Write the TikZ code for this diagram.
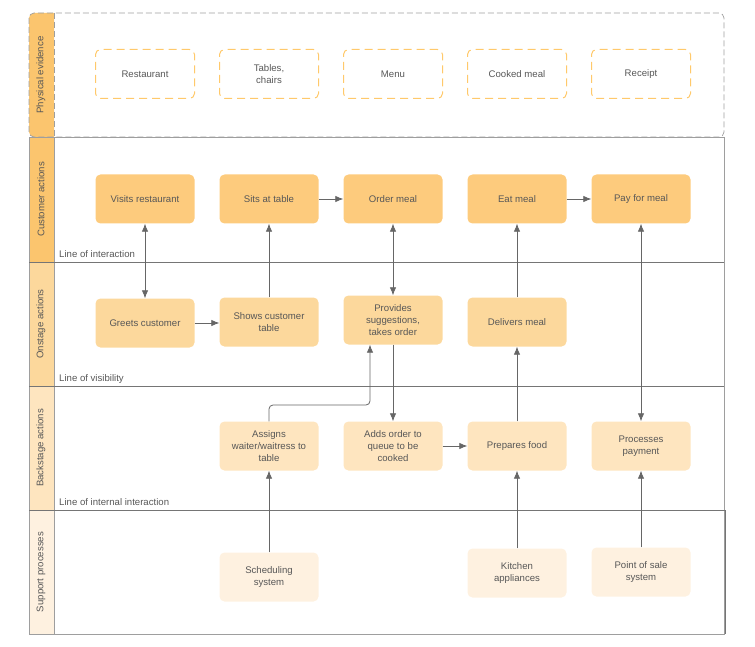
\documentclass[tikz,border=0pt]{standalone}
\usepackage{fontspec}
\setmainfont{Liberation Sans}
\usetikzlibrary{arrows.meta}

\definecolor{ink}{HTML}{575757}
\definecolor{wire}{HTML}{666666}
\definecolor{rim}{HTML}{9E9E9E}
\definecolor{laneA}{HTML}{FBC56E}
\definecolor{laneB}{HTML}{FCD89C}
\definecolor{laneC}{HTML}{FEE5BF}
\definecolor{laneD}{HTML}{FEF1E0}
\definecolor{custfill}{HTML}{FDCB7D}
\definecolor{evidrim}{HTML}{FFC96B}

\tikzset{
  box/.style={minimum width=99pt, minimum height=49pt, inner sep=0pt,
    rounded corners=5pt, align=center},
  evid/.style={box, draw=evidrim, line width=1pt, dash pattern=on 8pt off 5pt},
  cust/.style={box, fill=custfill},
  onst/.style={box, fill=laneB},
  back/.style={box, fill=laneC},
  supp/.style={box, fill=laneD},
  frame/.style={draw=rim, line width=0.7pt},
  divider/.style={draw=wire!90, line width=0.8pt},
  tip/.style={Latex[length=8pt,width=6.5pt]},
  flow/.style={draw=wire, line width=0.8pt, -{Latex[length=8pt,width=6.5pt]}},
  both/.style={flow, {Latex[length=8pt,width=6.5pt]}-{Latex[length=8pt,width=6.5pt]}},
  lanename/.style={rotate=90},
  linename/.style={anchor=base west, inner sep=0pt}
}

\begin{document}
\begin{tikzpicture}[x=1pt, y=-1pt, font=\fontsize{9.6}{12}\selectfont, text=ink]
  \useasboundingbox (0,0) rectangle (755,647);

  % physical evidence lane
  \begin{scope}
    \clip (29,13) rectangle (54,137);
    \fill[laneA, rounded corners=5pt] (29,13) rectangle (64,137);
  \end{scope}
  \draw[frame, dash pattern=on 6pt off 3pt, rounded corners=5pt] (29,13) rectangle (724,137);
  \draw[frame, dash pattern=on 6pt off 3pt] (54,13) -- (54,137);
  \node[lanename] (lane0) at (41,75) {Physical evidence};

  % remaining lanes
  \foreach \i/\top/\bot/\col/\name in {1/137/262/laneA/Customer actions,
      2/262/386/laneB/Onstage actions, 3/386/510/laneC/Backstage actions,
      4/510/634/laneD/Support processes} {
    \fill[\col] (29,\top) rectangle (54,\bot);
    \draw[frame] (29,\top) rectangle (724,\bot);
    \draw[frame] (54,\top) -- (54,\bot);
    \node[lanename] (lane\i) at (41,{(\top+\bot)/2}) {\name};
  }
  \draw[divider] (29,262) -- (724,262);
  \draw[divider] (29,386) -- (724,386);
  \draw[divider] (29,510) -- (725,510) -- (725,634);

  \node[linename] (interact) at (59,257.5) {Line of interaction};
  \node[linename] (visible)  at (59,381)   {Line of visibility};
  \node[linename] (internal) at (59,505.5) {Line of internal interaction};

  \node[evid] (restaurant) at (145,74) {Restaurant};
  \node[evid] (tables)     at (269,74) {Tables,\\chairs};
  \node[evid] (menu)       at (393,74) {Menu};
  \node[evid] (cooked)     at (517,74) {Cooked meal};
  \node[evid] (receipt)    at (641,74) {Receipt};

  \node[cust] (visit) at (145,199) {Visits restaurant};
  \node[cust] (sit)   at (269,199) {Sits at table};
  \node[cust] (order) at (393,199) {Order meal};
  \node[cust] (eat)   at (517,199) {Eat meal};
  \node[cust] (pay)   at (641,199) {Pay for meal};

  \node[onst] (greet)   at (145,323) {Greets customer};
  \node[onst] (show)    at (269,322) {Shows customer\\table};
  \node[onst] (provide) at (393,320) {Provides\\suggestions,\\takes order};
  \node[onst] (deliver) at (517,322) {Delivers meal};

  \node[back] (assign)  at (269,446) {Assigns\\waiter/waitress to\\table};
  \node[back] (adds)    at (393,446) {Adds order to\\queue to be\\cooked};
  \node[back] (prepare) at (517,446) {Prepares food};
  \node[back] (process) at (641,446) {Processes\\payment};

  \node[supp] (sched)   at (269,577) {Scheduling\\system};
  \node[supp] (kitchen) at (517,573) {Kitchen\\appliances};
  \node[supp] (pos)     at (641,572) {Point of sale\\system};

  \coordinate (bend) at (370,405);

  \draw[both] (visit) -- (greet);
  \draw[flow] (sit) -- (order);
  \draw[flow] (eat) -- (pay);
  \draw[flow] (greet.east) -- (greet.east -| show.west);
  \draw[flow] (show) -- (sit);
  \draw[both] (order) -- (provide);
  \draw[flow] (deliver) -- (eat);
  \draw[both] (pay) -- (process);
  \draw[flow] (provide) -- (adds);
  \draw[flow, rounded corners=4pt] (assign.north) |- (bend) -- (bend |- provide.south);
  \draw[flow] (adds) -- (prepare);
  \draw[flow] (prepare) -- (deliver);
  \draw[flow] (sched) -- (assign);
  \draw[flow] (kitchen) -- (prepare);
  \draw[flow] (pos) -- (process);
\end{tikzpicture}
\end{document}
